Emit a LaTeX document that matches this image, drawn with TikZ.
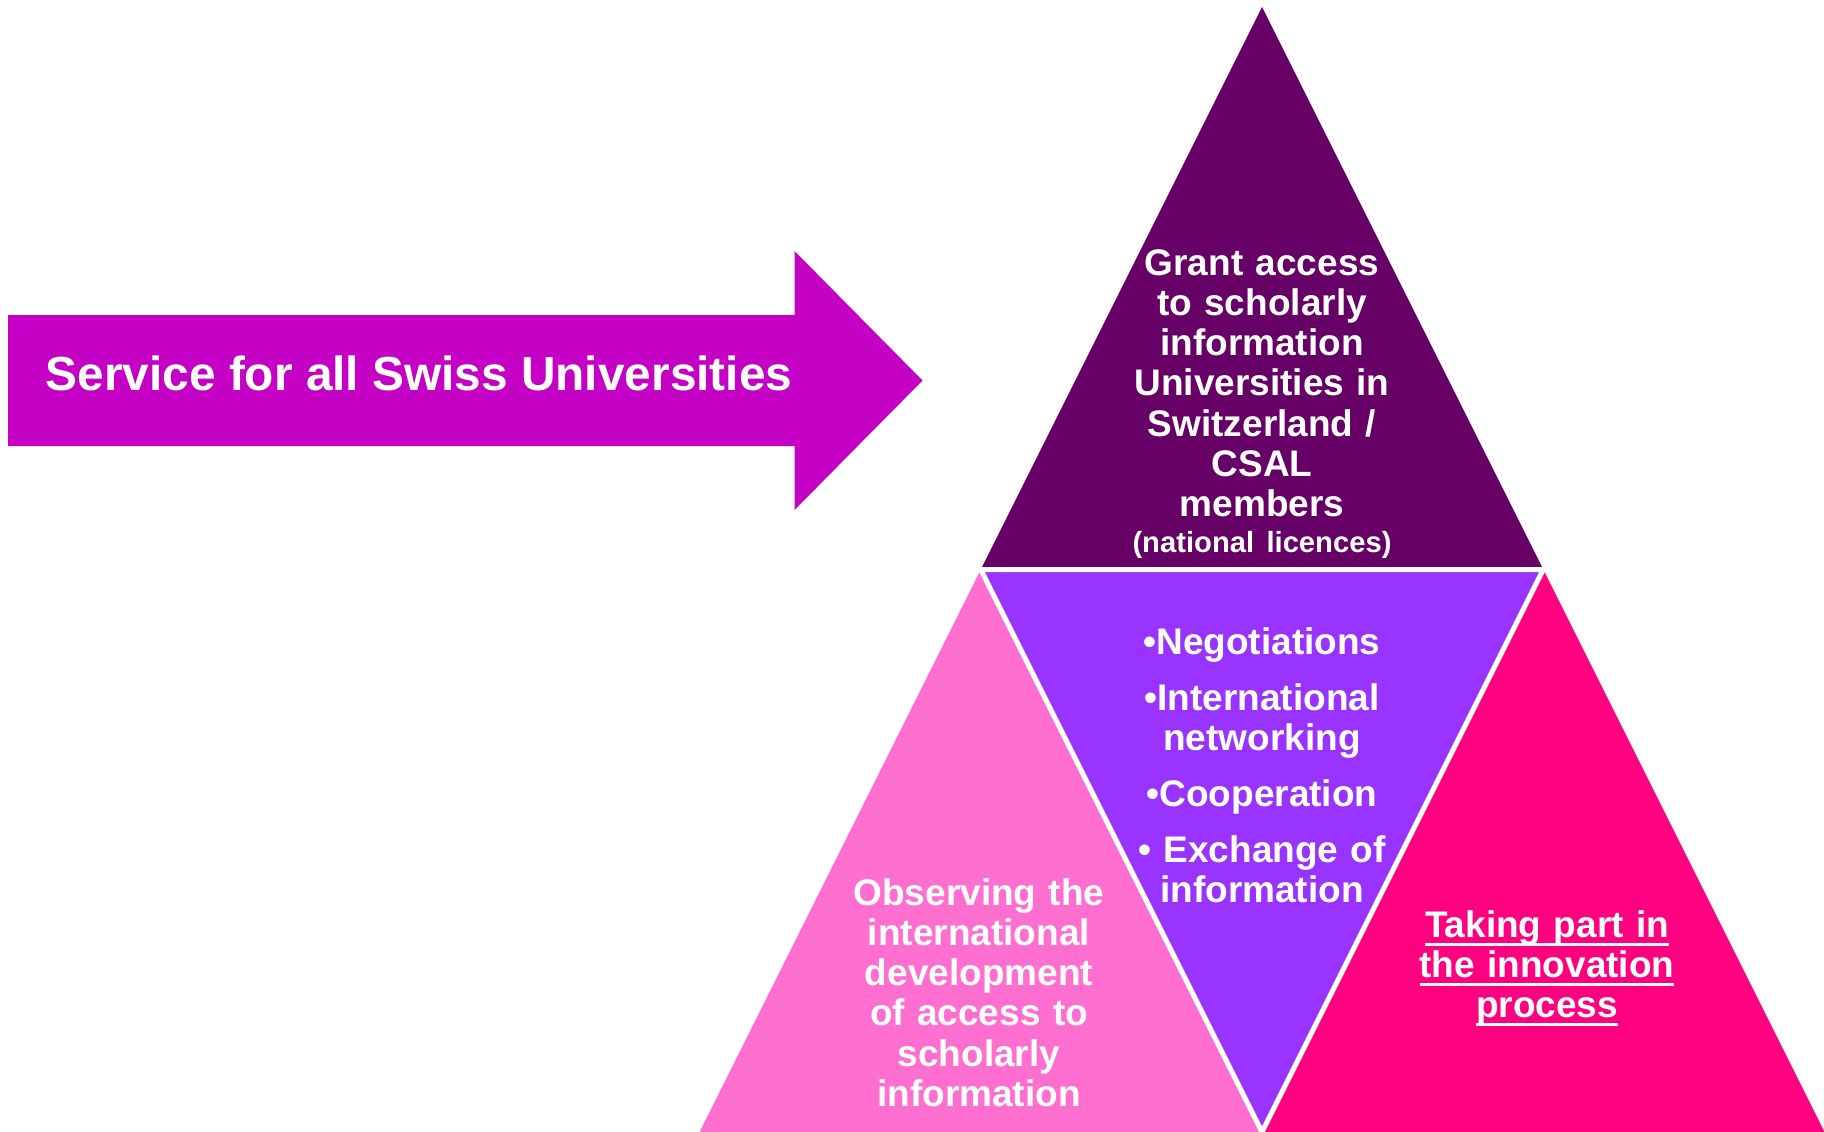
\documentclass[tikz,border=0pt]{standalone}
\usepackage{fontspec}
\setmainfont{Liberation Sans}
\definecolor{arrowcol}{HTML}{C400C4}
\definecolor{topcol}{HTML}{660066}
\definecolor{midcol}{HTML}{9933FF}
\definecolor{leftcol}{HTML}{FF6FCF}
\definecolor{rightcol}{HTML}{FF0080}
\newsavebox\ulbox
\newcommand\myul[1]{\leavevmode\sbox\ulbox{#1}\rlap{\rule[-8.5pt]{\wd\ulbox}{3pt}}\usebox\ulbox}
\begin{document}
\begin{tikzpicture}[x=1pt,y=-1pt,
  txt/.style={text=white, inner sep=0pt, outer sep=0pt, align=center, text width=320pt,
    font=\bfseries\fontsize{37}{40.3}\selectfont},
  sep/.style={draw=white, line width=5pt, line join=miter}]
\useasboundingbox (0,0) rectangle (1824,1132);
% arrow
\fill[arrowcol] (8,315) -- (794.5,315) -- (794.5,251) -- (922.5,380.5) -- (794.5,510) -- (794.5,446) -- (8,446) -- cycle;
\node[inner sep=0pt, text=white, anchor=base, font=\bfseries\fontsize{47.8}{52}\selectfont] (service) at (419,390.7) {Service for all Swiss Universities};
% triangle corners
\coordinate (A) at (1262,7);
\coordinate (L) at (699.5,1132);
\coordinate (R) at (1824.5,1132);
\coordinate (ML) at (980.75,569.5);
\coordinate (MR) at (1543.25,569.5);
\coordinate (MB) at (1262,1132);
\fill[topcol] (A) -- (ML) -- (MR) -- cycle;
\fill[leftcol] (ML) -- (L) -- (MB) -- cycle;
\fill[rightcol] (MR) -- (MB) -- (R) -- cycle;
\fill[midcol] (ML) -- (MR) -- (MB) -- cycle;
\draw[sep] (ML) -- (MR) -- (MB) -- cycle;
% texts
\node[txt, anchor=base] (grant) at (1262,275) {Grant access\\to scholarly\\information\\Universities in\\Switzerland /\\CSAL\\members\\[-4.3pt]{\fontsize{29.2}{30}\selectfont (national licences)}};
\node[txt, anchor=base] (mid) at (1262,654) {•Negotiations\\[15.7pt]•International\\networking\\[15.7pt]•Cooperation\\[15.7pt]• Exchange of\\information};
\node[txt, anchor=base] (observe) at (979,905) {Observing the\\international\\development\\of access to\\scholarly\\information};
\node[txt, anchor=base] (taking) at (1547,937) {\myul{Taking part in}\\\myul{the innovation}\\\myul{process}};
\end{tikzpicture}
\end{document}
